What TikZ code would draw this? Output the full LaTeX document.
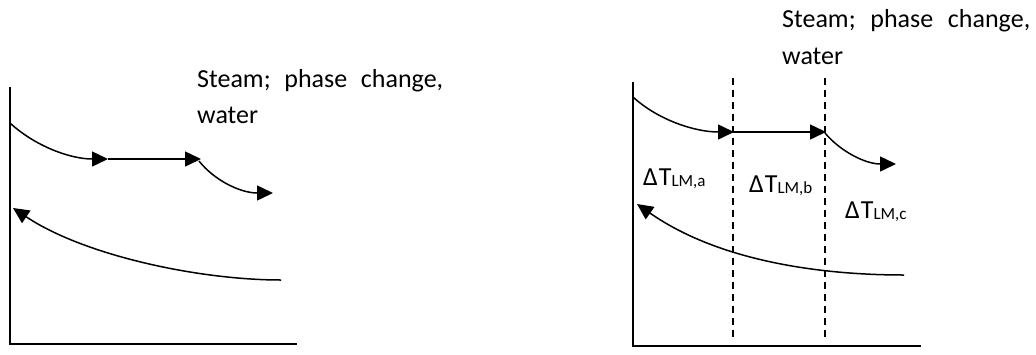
\documentclass[tikz,border=0pt]{standalone}
\usepackage{fontspec}
\setmainfont{Carlito}
\usetikzlibrary{arrows.meta}
\begin{document}
\begin{tikzpicture}[x=1pt,y=-1pt,
  axis/.style={line width=2pt},
  curve/.style={line width=1.5pt},
  arr/.style={curve,-{Triangle[length=16pt,width=15pt]}},
  divider/.style={line width=1.5pt,dash pattern=on 7pt off 5pt},
  lbl/.style={anchor=base west,inner sep=0pt,font=\fontsize{26}{30}\selectfont},
]
\useasboundingbox (0,0) rectangle (1036,354);
\newcommand{\dtl}[1]{Δ\kern1ptT\raisebox{-1pt}{\fontsize{17}{17}\selectfont LM,#1}}
% ---------- left diagram ----------
\coordinate (LO) at (10,344);
\coordinate (LY) at (10,87);
\coordinate (LX) at (297,344);
\draw[axis] (LY) -- (LO) -- (LX);
\coordinate (la) at (10,123);
\coordinate (lb) at (108,159);
\coordinate (lc) at (201,159);
\coordinate (ld) at (273,193);
\draw[arr] (la) .. controls (35,146) and (70,159) .. (lb);
\draw[arr] (lb) -- (lc);
\draw[arr] (199,161) .. controls (214,180) and (240,193) .. (ld);
\coordinate (le) at (281,280);
\coordinate (lf) at (13,208);
\draw[arr] (le) .. controls (200,280) and (85,256) .. (lf);
\node[lbl] (lt1) at (197,87) {\hbox to 246pt{Steam;\hfill phase\hfill change,}};
\node[lbl] (lt2) at (197,123) {water};
% ---------- right diagram ----------
\coordinate (RO) at (633,346);
\coordinate (RY) at (633,82);
\coordinate (RX) at (921,346);
\draw[axis] (RY) -- (RO) -- (RX);
\coordinate (d1t) at (733,78);
\coordinate (d1b) at (733,337);
\coordinate (d2t) at (825,78);
\coordinate (d2b) at (825,337);
\draw[divider] (d1t) -- (d1b);
\draw[divider] (d2t) -- (d2b);
\coordinate (ra) at (633,97);
\coordinate (rb) at (734,132);
\coordinate (rc) at (826,132);
\coordinate (rd) at (896,164);
\draw[arr] (ra) .. controls (658,120) and (695,132) .. (rb);
\draw[arr] (rb) -- (rc);
\draw[arr] (825,133) .. controls (840,151) and (865,164) .. (rd);
\coordinate (re) at (904,275);
\coordinate (rf) at (637,204);
\draw[arr] (re) .. controls (823,275) and (720,262) .. (rf);
\node[lbl] (rt1) at (782,27) {\hbox to 248pt{Steam;\hfill phase\hfill change,}};
\node[lbl] (rt2) at (782,64) {water};
\node[lbl] (la1) at (643,185) {\dtl{a}};
\node[lbl] (lb1) at (749,192) {\dtl{b}};
\node[lbl] (lc1) at (845,218) {\dtl{c}};
\end{tikzpicture}
\end{document}
